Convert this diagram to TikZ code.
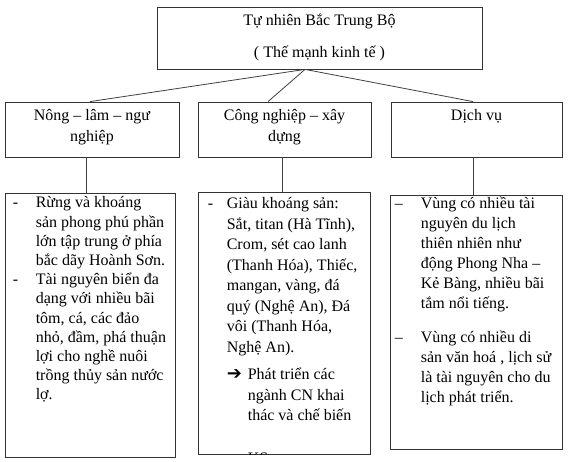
\documentclass[tikz,border=0pt]{standalone}
\usepackage{fontspec}
\setmainfont{Liberation Serif}
\newfontfamily\arrowfont{DejaVu Sans}
\usetikzlibrary{positioning}
\newcommand{\firststrut}{\rule{0pt}{15pt}}
\newcommand{\laststrut}[1]{\rule[-#1pt]{0pt}{#1pt}}
\newcommand{\marker}[2]{\makebox[#1pt][l]{#2}}
\newcommand{\hangin}[1]{\hspace*{#1pt}}
\tikzstyle{boxnode}=[draw=black!80, line width=.8pt, inner sep=0, align=center, font=\fontsize{16}{19.2}\selectfont]
\tikzstyle{listtext}=[inner sep=0, anchor=north west, align=left]
\tikzstyle{link}=[draw=black!75, line width=.8pt]
\newcommand{\listbox}[4]{\node[boxnode, minimum width=#3pt, minimum height=#4pt] (#1) at (#2) {};}

\begin{document}
\begin{tikzpicture}[x=1pt, y=-1pt]
\useasboundingbox (0,0) rectangle (572,462);

\node[boxnode, minimum width=325pt, minimum height=62pt] (tn) at (319.5,38)
  {\firststrut Tự nhiên Bắc Trung Bộ\\[12.8pt]( Thế mạnh kinh tế )\laststrut{7}};

\node[boxnode, minimum width=174pt, minimum height=55pt] (nln) at (92,129.5)
  {\firststrut Nông – lâm – ngư\\[1.8pt]nghiệp\laststrut{11}};
\node[boxnode, minimum width=173pt, minimum height=55pt] (cn) at (284.5,129.5)
  {\firststrut Công nghiệp – xây\\[1.8pt]dựng\laststrut{11}};
\node[boxnode, minimum width=171pt, minimum height=55pt] (dv) at (476.5,129.5)
  {\firststrut Dịch vụ\\[1.8pt]\laststrut{11}};

\listbox{nlnlist}{90,325}{170}{264}
\listbox{cnlist}{284,323}{172}{262}
\listbox{dvlist}{476,322}{172}{254}

% connectors
\coordinate (hub) at ([xshift=-14.5pt]tn.south);
\draw[link] (hub) -- ([xshift=-2pt]nln.north);
\draw[link] (hub) -- ([xshift=-16.5pt]cn.north);
\draw[link] (hub) -- ([xshift=-3.5pt]dv.north);
\draw[link] ([xshift=-6pt]nln.south) -- ([xshift=-4pt]nlnlist.north);
\draw[link] ([xshift=-2.5pt]cn.south) -- ([xshift=-2pt]cnlist.north);
\draw[link] ([xshift=-3.5pt]dv.south) -- ([xshift=-3pt]dvlist.north);

% list texts
\node[listtext, font=\fontsize{16}{19.2}\selectfont] (nlntext) at ([xshift=8pt]nlnlist.north west)
  {\firststrut\marker{23}{-}Rừng và khoáng\\
   \hangin{23}sản phong phú phần\\
   \hangin{23}lớn tập trung ở phía\\
   \hangin{23}bắc dãy Hoành Sơn.\\
   \marker{23}{-}Tài nguyên biển đa\\
   \hangin{23}dạng với nhiều bãi\\
   \hangin{23}tôm, cá, các đảo\\
   \hangin{23}nhỏ, đầm, phá thuận\\
   \hangin{23}lợi cho nghề nuôi\\
   \hangin{23}trồng thủy sản nước\\
   \hangin{23}lợ.};

\begin{scope}
\clip (cnlist.north west) rectangle (cnlist.south east);
\node[listtext, font=\fontsize{16}{20.5}\selectfont] (cntext) at ([xshift=10pt,yshift=-2pt]cnlist.north west)
  {\firststrut\marker{19}{-}Giàu khoáng sản:\\
   \hangin{19}Sắt, titan (Hà Tĩnh),\\
   \hangin{19}Crom, sét cao lanh\\
   \hangin{19}(Thanh Hóa), Thiếc,\\
   \hangin{19}mangan, vàng, đá\\
   \hangin{19}quý (Nghệ An), Đá\\
   \hangin{19}vôi (Thanh Hóa,\\
   \hangin{19}Nghệ An).\\[7pt]
   \hangin{19}\marker{21}{\arrowfont\bfseries\fontsize{18}{18}\selectfont ➔}Phát triển các\\
   \hangin{40}ngành CN khai\\
   \hangin{40}thác và chế biến\\[22pt]
   \hangin{40}KS};
\end{scope}

\node[listtext, font=\fontsize{16}{20}\selectfont] (dvtext) at ([xshift=5pt,yshift=1pt]dvlist.north west)
  {\firststrut\marker{26}{–}Vùng có nhiều tài\\
   \hangin{26}nguyên du lịch\\
   \hangin{26}thiên nhiên như\\
   \hangin{26}động Phong Nha –\\
   \hangin{26}Kẻ Bàng, nhiều bãi\\
   \hangin{26}tắm nổi tiếng.\\[14pt]
   \marker{26}{–}Vùng có nhiều di\\
   \hangin{26}sản văn hoá , lịch sử\\
   \hangin{26}là tài nguyên cho du\\
   \hangin{26}lịch phát triển.};
\end{tikzpicture}
\end{document}
